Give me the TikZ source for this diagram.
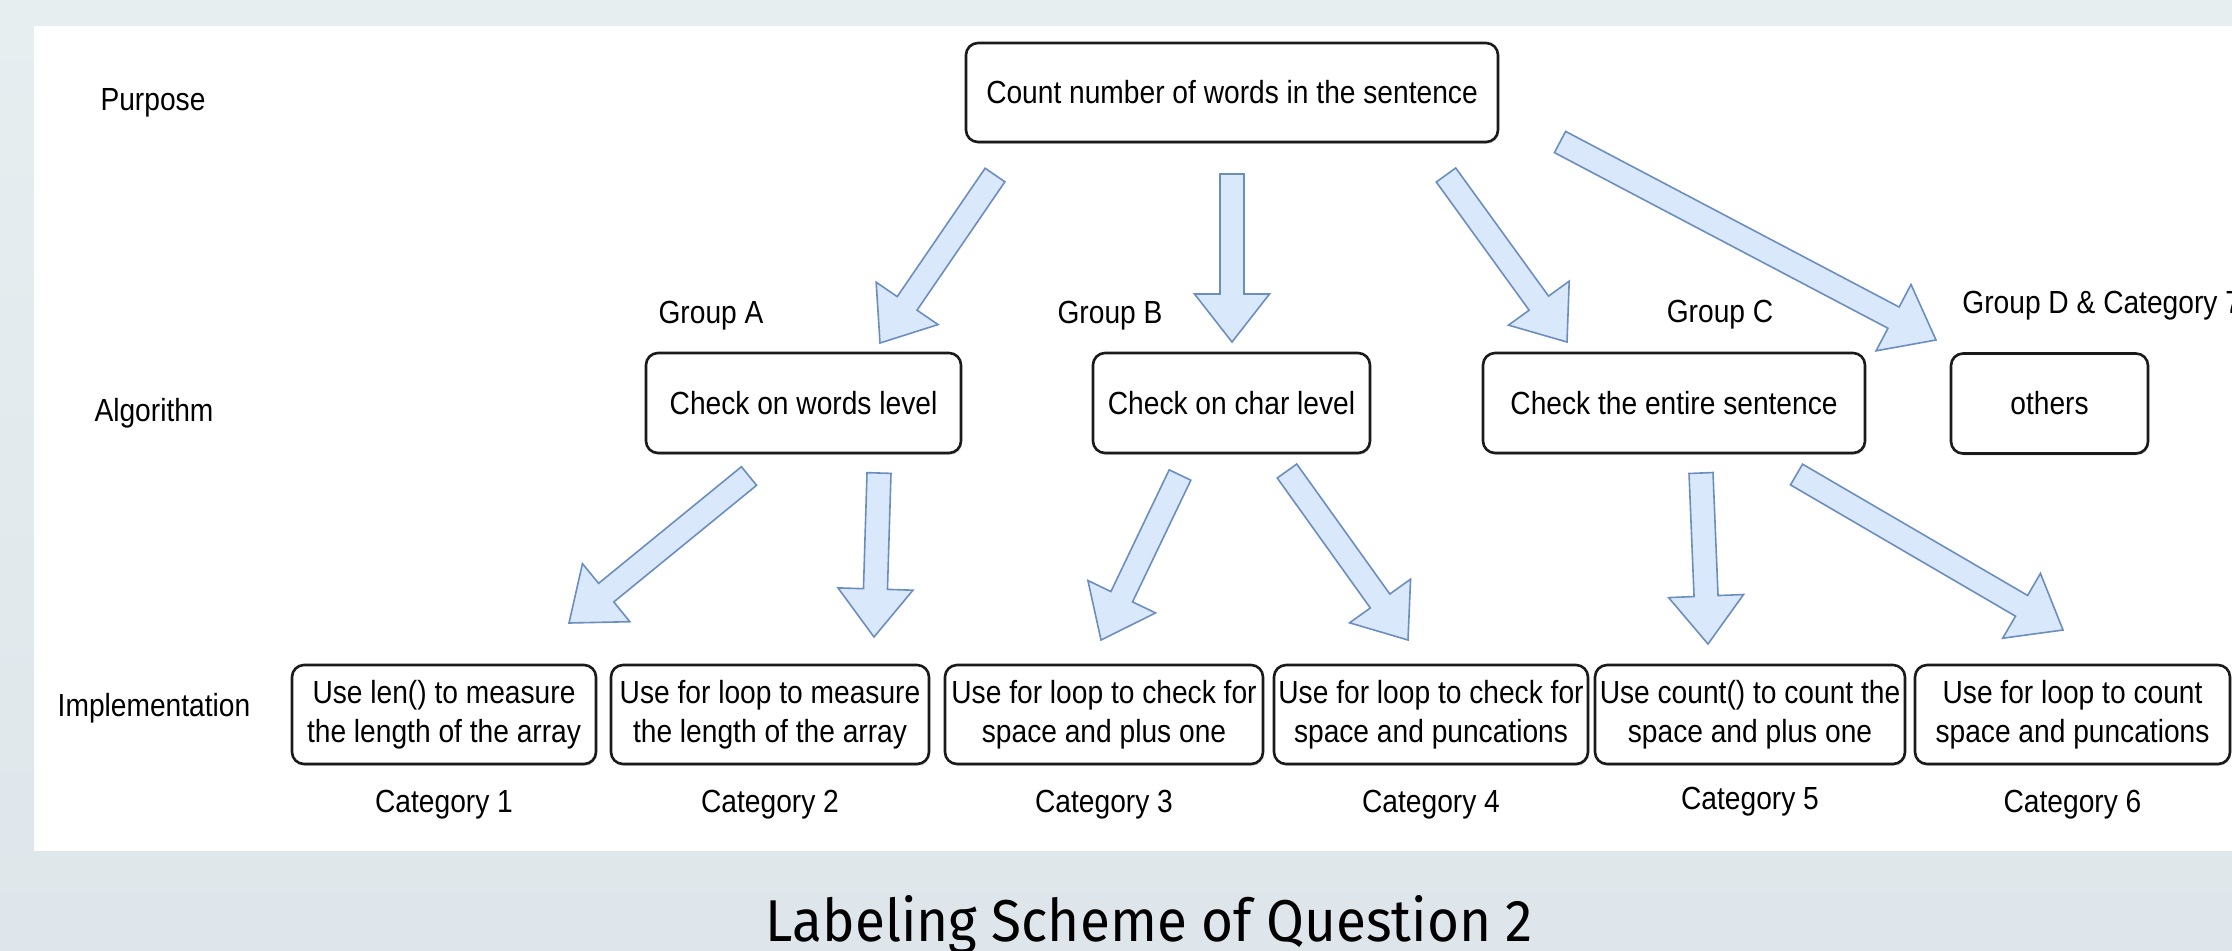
\documentclass[tikz,border=0pt]{standalone}
\usepackage{fontspec}
\setmainfont{Liberation Sans}[FakeStretch=0.88]
\newfontfamily\titlefont{Fira Sans}[FakeStretch=0.93]
\usetikzlibrary{calc,shadows}
\definecolor{bgtop}{HTML}{E6EEF0}
\definecolor{bgbot}{HTML}{DFE6EB}
\definecolor{arrfill}{HTML}{DAE8FC}
\definecolor{arrline}{HTML}{6C8EBF}
\definecolor{boxline}{HTML}{1A1A1A}
\tikzset{
  every node/.style={font=\fontsize{16}{19.5}\selectfont, text=black},
  box/.style={draw=boxline, line width=1.3pt, rounded corners=6pt, fill=white, inner sep=0pt, align=center,
    drop shadow={opacity=0.3, shadow xshift=0.5pt, shadow yshift=-0.9pt}},
  lbl/.style={anchor=base, inner sep=0pt},
  barrow/.style={fill=arrfill, draw=arrline, line width=0.8pt, line join=miter},
}
\newcommand{\blockarrow}[2]{%
  \coordinate (hb) at ($(#2)!24pt!(#1)$);
  \draw[barrow] ($(#1)!6pt!90:(#2)$) -- ($(hb)!6pt!-90:(#1)$) -- ($(hb)!18.75pt!-90:(#1)$) -- (#2)
    -- ($(hb)!18.75pt!90:(#1)$) -- ($(hb)!6pt!90:(#1)$) -- ($(#1)!6pt!-90:(#2)$) -- cycle;}
\begin{document}
\begin{tikzpicture}[x=0.5pt,y=-0.5pt]
\useasboundingbox (0,0) rectangle (2232,950);
\shade[top color=bgtop, bottom color=bgbot] (0,0) rectangle (2232,950);
\fill[white] (34,26) rectangle (2232,851);

% row labels
\node[lbl] (lpurpose) at (153,110) {Purpose};
\node[lbl] (lalgo) at (154,421) {Algorithm};
\node[lbl] (limpl) at (154,716) {Implementation};

% purpose
\node[box, minimum width=266pt, minimum height=49.5pt] (purpose) at (1232,92.5) {Count number of words in the sentence};

% algorithm boxes
\node[box, minimum width=157.5pt, minimum height=50pt] (algA) at (803.5,403) {Check on words level};
\node[box, minimum width=138.5pt, minimum height=50pt] (algB) at (1231.5,403) {Check on char level};
\node[box, minimum width=191pt, minimum height=50pt] (algC) at (1674,403) {Check the entire sentence};
\node[box, minimum width=98.5pt, minimum height=50pt] (algD) at (2049.5,403.5) {others};

% group labels
\node[lbl] (gA) at (711,323) {Group A};
\node[lbl] (gB) at (1110,323) {Group B};
\node[lbl] (gC) at (1720,322) {Group C};
\node[lbl, anchor=base west] (gD) at (1962,313) {Group D \& Category 7};

% implementation boxes
\node[box, minimum width=152pt, minimum height=49.5pt] (imp1) at (444,714.5) {Use len() to measure\\the length of the array};
\node[box, minimum width=159pt, minimum height=49.5pt] (imp2) at (770,714.5) {Use for loop to measure\\the length of the array};
\node[box, minimum width=159pt, minimum height=49.5pt] (imp3) at (1104,714.5) {Use for loop to check for\\space and plus one};
\node[box, minimum width=157pt, minimum height=49.5pt] (imp4) at (1431,714.5) {Use for loop to check for\\space and puncations};
\node[box, minimum width=155pt, minimum height=49.5pt] (imp5) at (1750,714.5) {Use count() to count the\\space and plus one};
\node[box, minimum width=157.5pt, minimum height=49.5pt] (imp6) at (2072.5,714.5) {Use for loop to count\\space and puncations};

% category labels
\node[lbl] (c1) at (444,812) {Category 1};
\node[lbl] (c2) at (770,812) {Category 2};
\node[lbl] (c3) at (1104,812) {Category 3};
\node[lbl] (c4) at (1431,812) {Category 4};
\node[lbl] (c5) at (1750,809) {Category 5};
\node[lbl] (c6) at (2072.5,812) {Category 6};

% arrow end points
\coordinate (t1) at (995,175);   \coordinate (p1) at (880,343);
\coordinate (t2) at (1232,174);  \coordinate (p2) at (1232,342);
\coordinate (t3) at (1446,175);  \coordinate (p3) at (1567,342);
\coordinate (t4) at (1560,142);  \coordinate (p4) at (1936,340);
\coordinate (t5) at (749,476);   \coordinate (p5) at (569,623);
\coordinate (t6) at (879,473);   \coordinate (p6) at (874,637);
\coordinate (t7) at (1180,475);  \coordinate (p7) at (1101,640);
\coordinate (t8) at (1287,471);  \coordinate (p8) at (1408,640);
\coordinate (t9) at (1701,473);  \coordinate (p9) at (1708,644);
\coordinate (t10) at (1796.5,474.5); \coordinate (p10) at (2063,630);

\blockarrow{t1}{p1}
\blockarrow{t2}{p2}
\blockarrow{t3}{p3}
\blockarrow{t4}{p4}
\blockarrow{t5}{p5}
\blockarrow{t6}{p6}
\blockarrow{t7}{p7}
\blockarrow{t8}{p8}
\blockarrow{t9}{p9}
\blockarrow{t10}{p10}

% title
\node[anchor=base, inner sep=0pt, font=\titlefont\fontsize{29.5}{34}\selectfont] (title) at (1149.5,941) {Labeling Scheme of Question 2};
\end{tikzpicture}
\end{document}
